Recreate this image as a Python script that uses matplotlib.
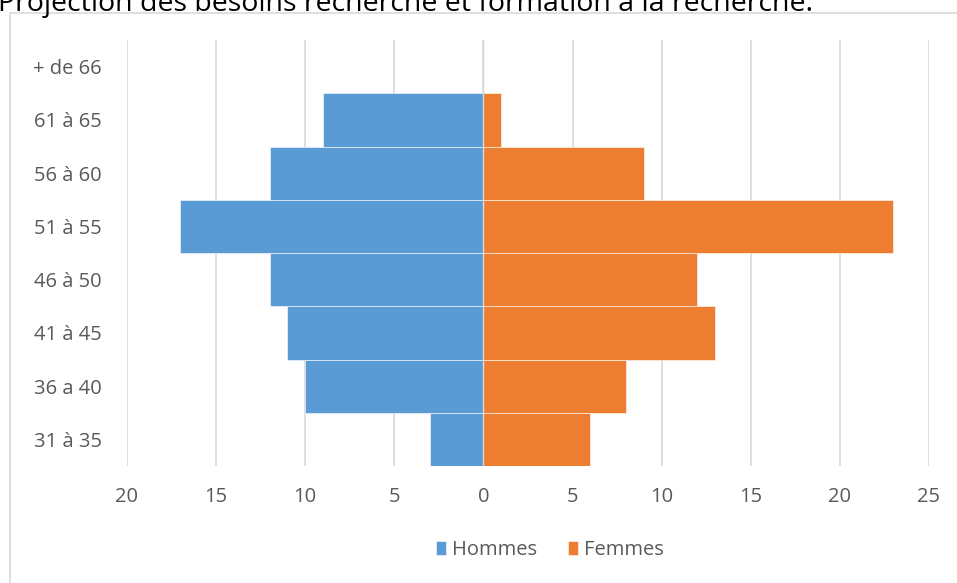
import numpy as np
import matplotlib
matplotlib.use("Agg")
import matplotlib.pyplot as plt
from matplotlib.patches import Rectangle

ages = ["31 à 35", "36 a 40", "41 à 45", "46 à 50", "51 à 55", "56 à 60", "61 à 65", "+ de 66"]
hommes = [3, 10, 11, 12, 17, 12, 9, 0]
femmes = [6, 8, 13, 12, 23, 9, 1, 0]
xticks = [-20, -15, -10, -5, 0, 5, 10, 15, 20, 25]

blue = "#5B9BD5"
orange = "#ED7D31"
grey_txt = "#595959"
grid_col = "#D9D9D9"

plt.rcParams['font.family'] = ['Open Sans', 'DejaVu Sans']

W, H = 957, 583
fig = plt.figure(figsize=(W / 100, H / 100), dpi=100)

# chart frame (right and bottom edges are outside the picture)
fig.add_artist(Rectangle((10 / W, -0.1), 2, (1 - 13 / H) + 0.1, transform=fig.transFigure,
                         facecolor="none", edgecolor=grid_col, lw=1.2))

# caption above the chart, cropped at the top like in the screenshot
fig.text(-2 / W, 1 - 11 / H, "Projection des besoins recherche et formation à la recherche.",
         fontsize=20.5, color="black", va="baseline", ha="left")

ax = fig.add_axes([127 / W, 1 - 466 / H, (929 - 127) / W, (466 - 40) / H])
y = np.arange(len(ages))
ax.barh(y, -np.array(hommes), height=1.0, color=blue, edgecolor="white", lw=0.4,
        label="Hommes", zorder=3)
ax.barh(y, femmes, height=1.0, color=orange, edgecolor="white", lw=0.4,
        label="Femmes", zorder=3)

ax.set_xlim(-20, 25)
ax.set_ylim(-0.5, len(ages) - 0.5)
ax.set_xticks(xticks)
ax.set_xticklabels([str(abs(v)) for v in xticks])
ax.set_yticks(y)
ax.set_yticklabels(ages)
ax.tick_params(length=0, colors=grey_txt, labelsize=14.5)
ax.tick_params(axis="x", pad=15)
ax.tick_params(axis="y", pad=18)
ax.grid(axis="x", color=grid_col, lw=1.2, zorder=0)
ax.axvline(0, color=grid_col, lw=1.0, zorder=4)
for s in ax.spines.values():
    s.set_visible(False)

leg = fig.legend(loc="center", bbox_to_anchor=(550 / W, 1 - 550 / H), ncol=2, frameon=False,
                 fontsize=14.5, handlelength=0.5, handleheight=0.75, handletextpad=0.3,
                 columnspacing=1.5)
for t in leg.get_texts():
    t.set_color(grey_txt)

fig.savefig("out.png", dpi=100)
